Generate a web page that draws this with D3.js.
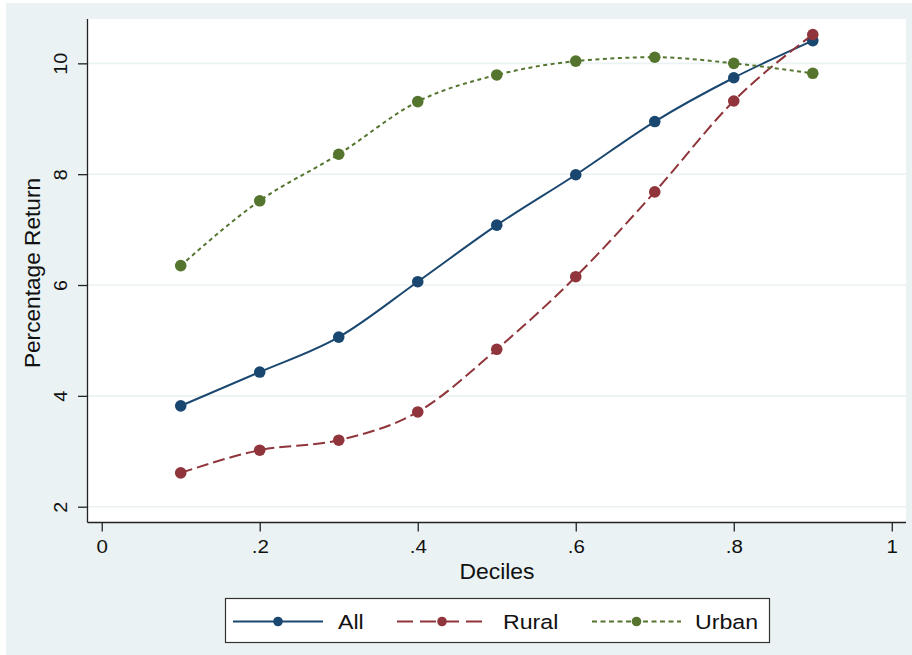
<!DOCTYPE html>
<html>
<head>
<meta charset="utf-8">
<script src="https://cdn.jsdelivr.net/npm/d3@7"></script>
<style>
  html, body { margin: 0; padding: 0; background: #ffffff; }
  svg { display: block; }
  text { font-family: "Liberation Sans", Arial, Helvetica, sans-serif; fill: #111; }
</style>
</head>
<body>
<svg id="chart" width="912" height="655"></svg>
<script>
// Deciles on the x axis
const deciles = [0.1, 0.2, 0.3, 0.4, 0.5, 0.6, 0.7, 0.8, 0.9];

// Percentage return by decile
const allValues   = [3.82, 4.43, 5.06, 6.06, 7.08, 7.99, 8.95, 9.74, 10.41];
const ruralValues = [2.61, 3.02, 3.20, 3.71, 4.84, 6.15, 7.68, 9.32, 10.52];
const urbanValues = [6.35, 7.52, 8.36, 9.31, 9.79, 10.04, 10.11, 10.00, 9.82];

// Axis ticks
const xTicks = [0, 0.2, 0.4, 0.6, 0.8, 1];
const xTickLabels = ["0", ".2", ".4", ".6", ".8", "1"];
const yTicks = [2, 4, 6, 8, 10];

const seriesNames = ["All", "Rural", "Urban"];
const seriesColors = ["#1a476f", "#90353b", "#55752f"];
const seriesDash = [null, "12,5", "4,3.5"];
const legendDash = [null, "16,7", "5,3.5"];

const series = [allValues, ruralValues, urbanValues].map((vals, i) => ({
  name: seriesNames[i],
  color: seriesColors[i],
  dash: seriesDash[i],
  legendDash: legendDash[i],
  points: deciles.map((d, j) => ({ x: d, y: vals[j] }))
}));

const svg = d3.select("#chart");
const W = 912, H = 655;

// Outer graph region
svg.append("rect")
  .attr("x", 6).attr("y", 3)
  .attr("width", W - 6).attr("height", H - 3)
  .attr("fill", "#eaf2f3");

const plot = { left: 87.5, right: 906, top: 19, bottom: 522.5 };

const x = d3.scaleLinear().domain([-0.018, 1.018]).range([plot.left, plot.right]);
const y = d3.scaleLinear().domain([1.715, 10.8]).range([plot.bottom, plot.top]);

// Plot region
svg.append("rect")
  .attr("x", plot.left).attr("y", plot.top)
  .attr("width", plot.right - plot.left)
  .attr("height", plot.bottom - plot.top)
  .attr("fill", "#ffffff");

// Horizontal grid lines
svg.append("g")
  .selectAll("line")
  .data(yTicks)
  .join("line")
  .attr("x1", plot.left).attr("x2", plot.right)
  .attr("y1", d => y(d)).attr("y2", d => y(d))
  .attr("stroke", "#eaf2f3")
  .attr("stroke-width", 1.6);

// Y axis
const yAxis = svg.append("g")
  .attr("transform", `translate(${plot.left},0)`)
  .call(d3.axisLeft(y).tickValues(yTicks).tickSize(9.5).tickPadding(0).tickFormat(d3.format("d")));
yAxis.select(".domain").attr("d", `M0,${plot.top}V${plot.bottom}`).attr("stroke", "#222").attr("stroke-width", 1.3);
yAxis.selectAll(".tick line").attr("stroke", "#222").attr("stroke-width", 1.3);
yAxis.selectAll(".tick text")
  .attr("x", null).attr("dy", null)
  .attr("transform", "translate(-20.5,0) rotate(-90) scale(1.04,1)")
  .attr("text-anchor", "middle")
  .style("font-size", "19px")
  .style("font-family", '"Liberation Sans", Arial, sans-serif')
  .attr("fill", "#111");

// X axis
const xAxis = svg.append("g")
  .attr("transform", `translate(0,${plot.bottom})`)
  .call(d3.axisBottom(x).tickValues(xTicks).tickSize(9).tickPadding(0)
    .tickFormat((d, i) => xTickLabels[i]));
xAxis.select(".domain").attr("d", `M${plot.left},0H${plot.right}`).attr("stroke", "#222").attr("stroke-width", 1.3);
xAxis.selectAll(".tick line").attr("stroke", "#222").attr("stroke-width", 1.3);
xAxis.selectAll(".tick text")
  .attr("y", null).attr("dy", null)
  .attr("transform", "translate(0,30.5) scale(1.08,1)")
  .style("font-size", "19px")
  .style("font-family", '"Liberation Sans", Arial, sans-serif')
  .attr("fill", "#111");

// Axis titles
svg.append("text")
  .attr("transform", `translate(40,273) rotate(-90) scale(1.03,1)`)
  .attr("text-anchor", "middle")
  .style("font-size", "22px")
  .text("Percentage Return");

svg.append("text")
  .attr("transform", "translate(497,579) scale(1.04,1)")
  .attr("text-anchor", "middle")
  .style("font-size", "22px")
  .text("Deciles");

// Series lines and markers
const line = d3.line()
  .x(d => x(d.x))
  .y(d => y(d.y))
  .curve(d3.curveMonotoneX);

const g = svg.append("g");
series.forEach(s => {
  g.append("path")
    .datum(s.points)
    .attr("d", line)
    .attr("fill", "none")
    .attr("stroke", s.color)
    .attr("stroke-width", 2)
    .attr("stroke-dasharray", s.dash);
  g.append("g")
    .selectAll("circle")
    .data(s.points)
    .join("circle")
    .attr("cx", d => x(d.x))
    .attr("cy", d => y(d.y))
    .attr("r", 5.8)
    .attr("fill", s.color);
});

// Legend
const legend = svg.append("g");
legend.append("rect")
  .attr("x", 225.5).attr("y", 598.5)
  .attr("width", 544).attr("height", 44)
  .attr("fill", "#ffffff")
  .attr("stroke", "#333")
  .attr("stroke-width", 1.2);

const legendItems = [
  { x0: 233, x1: 323, tx: 338 },
  { x0: 397, x1: 487, tx: 503 },
  { x0: 592, x1: 681, tx: 695 }
];
const ly = 621.5;
series.forEach((s, i) => {
  const it = legendItems[i];
  legend.append("line")
    .attr("x1", it.x0).attr("x2", it.x1)
    .attr("y1", ly).attr("y2", ly)
    .attr("stroke", s.color)
    .attr("stroke-width", 2)
    .attr("stroke-dasharray", s.legendDash);
  legend.append("circle")
    .attr("cx", (it.x0 + it.x1) / 2).attr("cy", ly)
    .attr("r", 4.8)
    .attr("fill", s.color);
  legend.append("text")
    .attr("transform", `translate(${it.tx},${ly + 7.5}) scale(1.13,1)`)
    .style("font-size", "20.5px")
    .text(s.name);
});
</script>
</body>
</html>
